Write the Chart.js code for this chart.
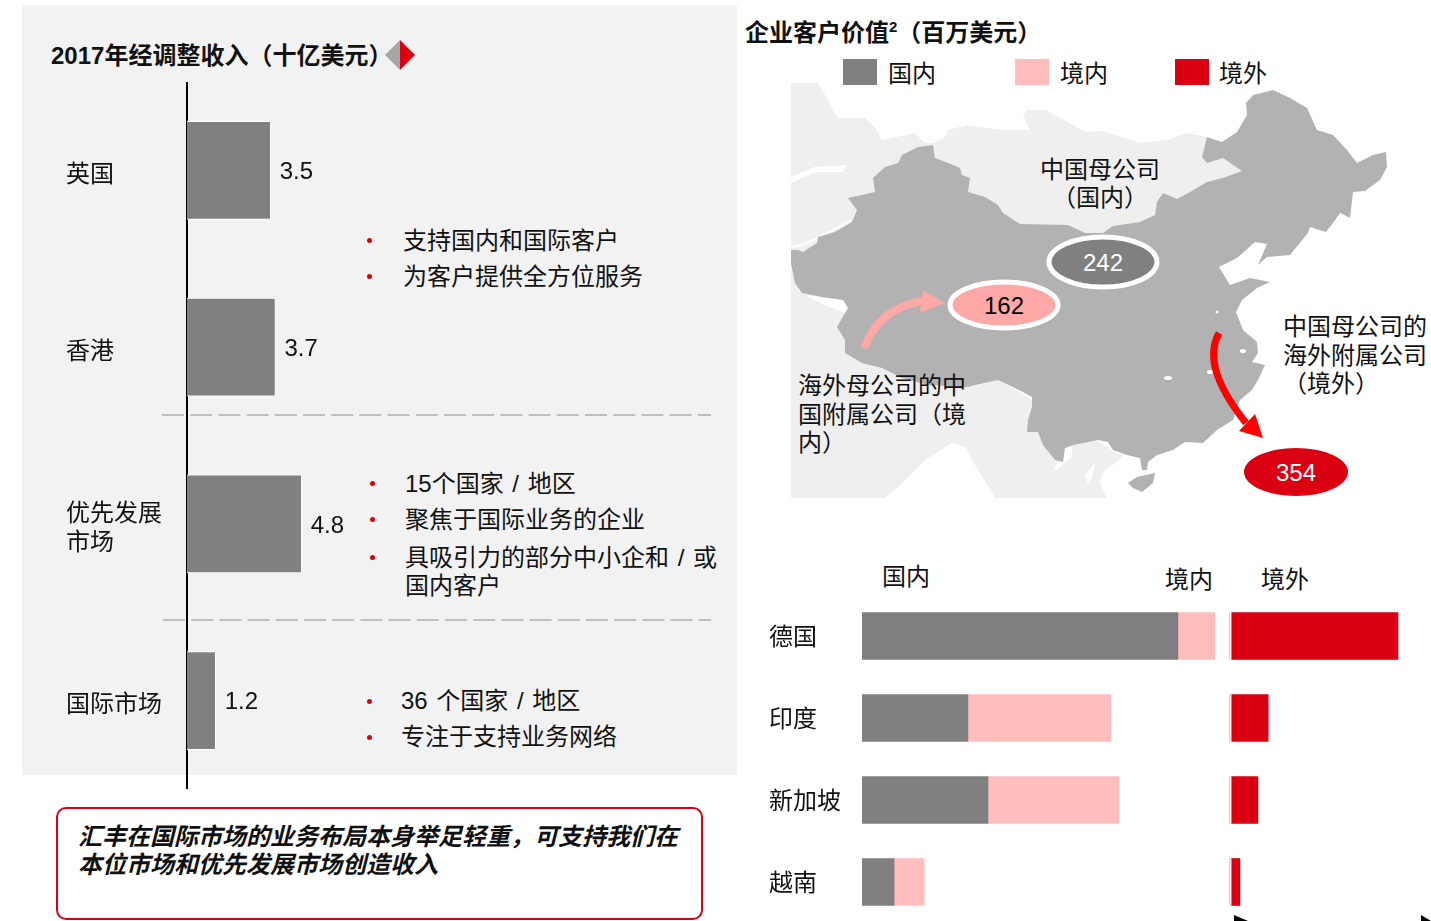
<!DOCTYPE html>
<html lang="zh">
<head>
<meta charset="utf-8">
<title>汇丰 2017</title>
<script src="https://cdn.jsdelivr.net/npm/chart.js@4"></script>
<style>
    html, body { margin: 0; padding: 0; background: #fff; }
    #page { position: relative; width: 1431px; height: 921px; overflow: hidden; font-family: "Liberation Sans", "Noto Sans CJK SC", sans-serif; color: #111; }
    #panel { position: absolute; left: 22px; top: 5px; width: 715px; height: 770px; background: #f2f2f2; }
    #decor { position: absolute; left: 0; top: 0; }
    canvas { position: absolute; }
    .t { position: absolute; font-size: 24px; line-height: 28px; white-space: nowrap; word-spacing: 2px; }
    .b { font-weight: bold; }
    .dot { position: absolute; width: 5px; height: 5px; border-radius: 50%; background: #db0011; }
    .sw { position: absolute; top: 59px; width: 34px; height: 26px; }
    #note { position: absolute; left: 56px; top: 807px; width: 643px; height: 109px; border: 2px solid #db0011; border-radius: 10px; background: #fff; }
</style>
</head>
<body>
<div id="page">
    <div id="panel"></div>

    <svg id="decor" width="1431" height="921">
        <!-- mapa de fondo -->
        <polygon fill="#efefef" points="791,83 818,83 828,100 838,118 865,118 875,127 882,140 915,133 925,143 933,143 945,137 948,130 967,125 1002,130 1030,130 1023,115 1027,110 1045,110 1068,122 1085,132 1103,131 1122,137 1140,143 1167,140 1187,133 1207,137 1242,171 1150,230 791,300"/>
        <polygon fill="#efefef" points="791,290 1000,380 1123,457 1103,472 1100,483 1107,498 995,498 972,460 965,447 952,443 925,460 895,490 885,498 791,498"/>
        <polygon fill="#fff" points="791,177 815,167 847,165 843,172 815,172 791,183"/>
        <polygon fill="#fff" points="1063,448 1072,447 1072,457 1053,472"/>
        <polygon fill="#fff" points="1085,475 1095,463 1092,478 1088,485"/>
        <polyline fill="none" stroke="#fff" stroke-width="2" points="791,247 803,245 817,238 835,229 851,220"/>
        <polygon fill="#b2b2b2" points="933,145 935,158 948,163 960,168 962,175 970,178 968,192 985,197 998,205 1003,213 1020,224 1068,225 1085,233 1103,233 1113,226 1140,222 1155,215 1157,202 1163,193 1177,199 1190,192 1207,182 1223,178 1242,171 1223,158 1207,163 1202,157 1207,137 1222,142 1237,132 1247,115 1246,103 1253,95 1273,90 1290,98 1307,108 1317,130 1333,135 1347,150 1357,163 1373,155 1386,152 1387,167 1380,180 1365,191 1353,192 1350,218 1340,213 1333,223 1326,232 1310,227 1308,233 1290,255 1267,257 1258,265 1267,244 1255,242 1237,258 1219,267 1230,285 1250,278 1270,282 1257,288 1242,300 1236,312 1243,330 1257,342 1258,353 1252,362 1265,365 1258,380 1252,390 1240,400 1233,420 1217,430 1203,443 1185,442 1173,450 1157,455 1148,462 1147,470 1142,470 1140,458 1127,455 1113,450 1108,442 1098,440 1073,445 1065,448 1063,462 1055,460 1043,445 1038,432 1027,432 1028,420 1032,407 1032,397 1013,387 998,380 975,385 968,387 928,385 902,378 882,368 862,363 845,353 845,340 837,327 848,308 843,300 822,297 802,293 795,283 791,263 791,250 798,250 803,252 817,243 818,237 835,232 852,222 857,210 848,198 875,192 873,178 885,167 898,163 902,155 918,147"/>
        <polygon fill="#b2b2b2" points="1128,483 1137,477 1155,473 1153,483 1142,492 1133,488"/>
        <ellipse cx="1168" cy="378" rx="4" ry="2" fill="#fff"/>
        <ellipse cx="1243" cy="351" rx="3" ry="2" fill="#fff"/>
        <ellipse cx="1210" cy="372" rx="3" ry="2" fill="#fff"/>
        <ellipse cx="1217" cy="312" rx="1.5" ry="1.5" fill="#fff"/>

        <!-- flechas -->
        <path d="M864,348 Q880,307 923,301" fill="none" stroke="#ffa8a8" stroke-width="8"/>
        <polygon fill="#ffa8a8" points="945,303 923,290 920,313"/>
        <path d="M1219,333 C1208,353 1212,380 1246,423" fill="none" stroke="#f00" stroke-width="7"/>
        <polygon fill="#f00" points="1263,438 1239,431 1255,414"/>

        <!-- burbujas -->
        <ellipse cx="1103" cy="262" rx="54" ry="25" fill="#808080" stroke="#fff" stroke-width="5"/>
        <ellipse cx="1004" cy="305" rx="54" ry="23" fill="#ffa8a8" stroke="#fff" stroke-width="5"/>
        <ellipse cx="1296" cy="472" rx="52" ry="24" fill="#db0011"/>

        <!-- separadores y rombo -->
        <line x1="162" y1="415" x2="711" y2="415" stroke="#bfbfbf" stroke-width="2" stroke-dasharray="22 6.2"/>
        <line x1="163" y1="620" x2="711" y2="620" stroke="#bfbfbf" stroke-width="2" stroke-dasharray="22 6.2"/>
        <polygon fill="#a6a6a6" points="400,40 385,55 400,70"/>
        <polygon fill="#db0011" points="400,40 415,55 400,70"/>

        <polygon fill="#000" points="1234,915 1248,921 1234,921"/>
        <polygon fill="#000" points="1421,915 1431,921 1421,921"/>
    </svg>

    <div class="t b" style="left:51px; top:42px">2017年经调整收入（十亿美元）</div>
    <div class="t b" style="left:745px; top:19px">企业客户价值<sup style="font-size:15px; line-height:0">2</sup>（百万美元）</div>

    <div class="sw" style="left:843px; background:#808080"></div>
    <div class="sw" style="left:1015px; background:#ffbdbd"></div>
    <div class="sw" style="left:1175px; background:#db0011"></div>
    <div class="t" style="left:888px; top:60px">国内</div>
    <div class="t" style="left:1060px; top:60px">境内</div>
    <div class="t" style="left:1219px; top:60px">境外</div>

    <div class="dot" style="left:367px; top:238px"></div>
    <div class="t" style="left:403px; top:227px">支持国内和国际客户</div>
    <div class="dot" style="left:367px; top:274px"></div>
    <div class="t" style="left:403px; top:263px">为客户提供全方位服务</div>

    <div class="dot" style="left:370px; top:481px"></div>
    <div class="t" style="left:405px; top:470px">15个国家 / 地区</div>
    <div class="dot" style="left:370px; top:517px"></div>
    <div class="t" style="left:405px; top:506px">聚焦于国际业务的企业</div>
    <div class="dot" style="left:370px; top:555px"></div>
    <div class="t" style="left:405px; top:544px">具吸引力的部分中小企和 / 或</div>
    <div class="t" style="left:405px; top:572px">国内客户</div>

    <div class="dot" style="left:367px; top:699px"></div>
    <div class="t" style="left:401px; top:687px">36 个国家 / 地区</div>
    <div class="dot" style="left:367px; top:735px"></div>
    <div class="t" style="left:401px; top:723px">专注于支持业务网络</div>

    <div id="note"></div>
    <div class="t b" style="left:78px; top:823px; font-style:italic">汇丰在国际市场的业务布局本身举足轻重，可支持我们在</div>
    <div class="t b" style="left:78px; top:851px; font-style:italic">本位市场和优先发展市场创造收入</div>

    <div class="t" style="left:1040px; top:156px">中国母公司</div>
    <div class="t" style="left:1052px; top:184px">（国内）</div>
    <div class="t" style="left:1283px; top:313px">中国母公司的</div>
    <div class="t" style="left:1283px; top:342px">海外附属公司</div>
    <div class="t" style="left:1283px; top:370px">（境外）</div>
    <div class="t" style="left:798px; top:372px">海外母公司的中</div>
    <div class="t" style="left:798px; top:401px">国附属公司（境</div>
    <div class="t" style="left:798px; top:429px">内）</div>

    <div class="t" style="left:1083px; top:249px; color:#fff">242</div>
    <div class="t" style="left:984px; top:292px; color:#000">162</div>
    <div class="t" style="left:1276px; top:459px; color:#fff">354</div>

    <div class="t" style="left:882px; top:563px">国内</div>
    <div class="t" style="left:1165px; top:566px">境内</div>
    <div class="t" style="left:1261px; top:566px">境外</div>

    <canvas id="graficaIngresos" width="360" height="707" style="left:66px; top:82px"></canvas>
    <canvas id="graficaPaisesBase" width="446" height="328" style="left:769px; top:595px"></canvas>
    <canvas id="graficaPaisesExterior" width="200" height="328" style="left:1229px; top:595px"></canvas>
</div>

<script>
const FUENTE = '"Liberation Sans", "Noto Sans CJK SC", sans-serif';

// ingresos 2017 (miles de millones USD)
const mercados = ['英国', '香港', ['优先发展', '市场'], '国际市场'];
const ingresos = [3.5, 3.7, 4.8, 1.2];

// valor de clientes (Alemania base = 100)
const paises = ['德国', '印度', '新加坡', '越南'];
const domestico = [89.5, 30, 35.7, 9.1];
const onshore = [10.5, 40.5, 37.1, 8.5];
const filetePais = [0.3, 0.3, 0.3, 0.3];
const huecoPais = [0.3, 0.3, 0.3, 0.3];
const offshore = [47.3, 10.5, 7.6, 2.5];

const etiquetasValor = {
    id: 'etiquetasValor',
    afterDatasetsDraw(chart) {
        const ctx = chart.ctx;
        const barras = chart.getDatasetMeta(0).data;
        ctx.save();
        ctx.font = '24px ' + FUENTE;
        ctx.fillStyle = '#111';
        ctx.textBaseline = 'middle';
        barras.forEach((barra, i) => {
            ctx.fillText(ingresos[i].toFixed(1), barra.x + 9, barra.y + 2);
        });
        ctx.restore();
    }
};

function ejeCategorias(anchoEje, bajarEtiqueta) {
    return {
        position: 'left',
        // sin esto la primera y ultima etiqueta encogen el area del grafico
        afterFit: scale => {
            scale.width = anchoEje;
            scale.paddingTop = 0;
            scale.paddingBottom = 0;
        },
        grid: { display: false, drawTicks: false },
        ticks: {
            autoSkip: false,
            crossAlign: 'far',
            color: '#111',
            padding: 0,
            labelOffset: bajarEtiqueta,
            font: { family: FUENTE, size: 24 }
        }
    };
}

new Chart(document.getElementById('graficaIngresos').getContext('2d'), {
    type: 'bar',
    data: {
        labels: mercados,
        datasets: [{
            data: ingresos,
            backgroundColor: '#808080',
            borderColor: '#ffffff',
            borderWidth: { top: 1, right: 1, bottom: 1, left: 0 },
            barThickness: 98
        }]
    },
    options: {
        indexAxis: 'y',
        responsive: false,
        animation: false,
        layout: { padding: 0 },
        scales: {
            x: { display: false, min: 0, max: 10 },
            y: Object.assign(ejeCategorias(121, 5), { border: { display: true, color: '#000', width: 2 } })
        },
        plugins: { legend: { display: false }, tooltip: { enabled: false } }
    },
    plugins: [etiquetasValor]
});

new Chart(document.getElementById('graficaPaisesBase').getContext('2d'), {
    type: 'bar',
    data: {
        labels: paises,
        datasets: [
            { data: domestico, backgroundColor: '#808080', barThickness: 47 },
            { data: onshore, backgroundColor: '#ffbdbd', barThickness: 47 }
        ]
    },
    options: {
        indexAxis: 'y',
        responsive: false,
        animation: false,
        layout: { padding: 0 },
        scales: {
            x: { display: false, stacked: true, min: 0, max: 100 },
            y: Object.assign(ejeCategorias(93, 2), { stacked: true, border: { display: false } })
        },
        plugins: { legend: { display: false }, tooltip: { enabled: false } }
    }
});

new Chart(document.getElementById('graficaPaisesExterior').getContext('2d'), {
    type: 'bar',
    data: {
        labels: paises,
        datasets: [
            { data: filetePais, backgroundColor: '#ffbdbd', barThickness: 47 },
            { data: huecoPais, backgroundColor: '#ffffff', barThickness: 47 },
            { data: offshore, backgroundColor: '#db0011', barThickness: 47 }
        ]
    },
    options: {
        indexAxis: 'y',
        responsive: false,
        animation: false,
        layout: { padding: 0 },
        scales: {
            x: { display: false, stacked: true, min: 0, max: 56.7 },
            y: { display: false, stacked: true }
        },
        plugins: { legend: { display: false }, tooltip: { enabled: false } }
    }
});
</script>
</body>
</html>
